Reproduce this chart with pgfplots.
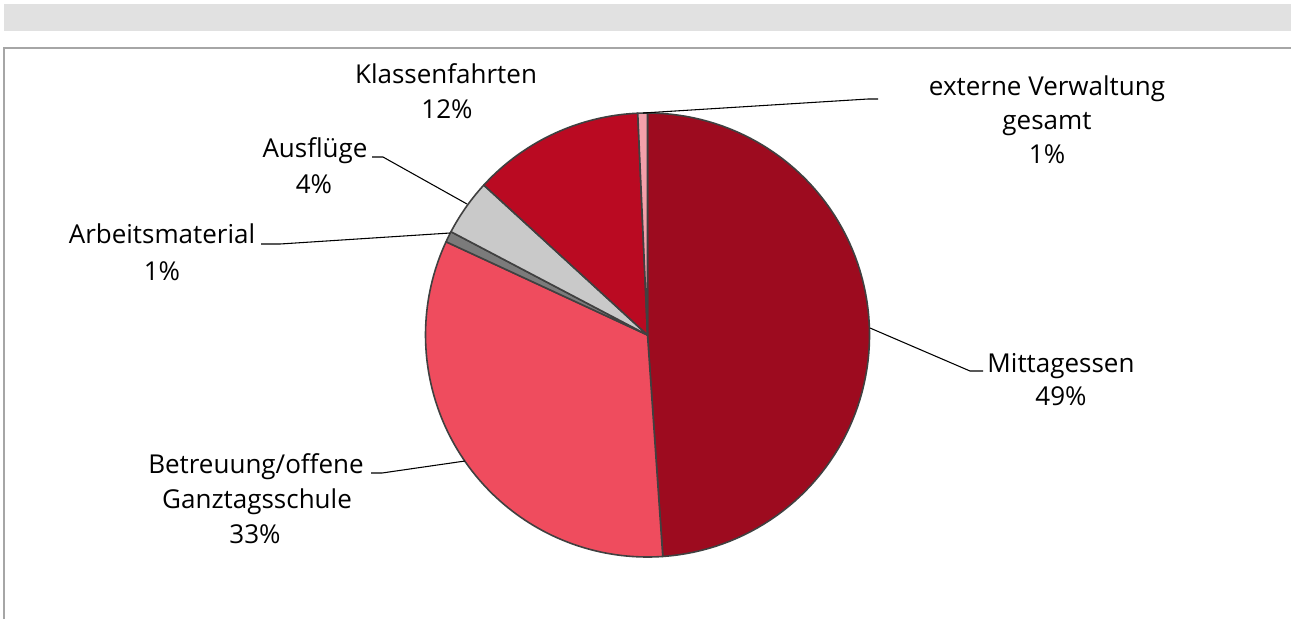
\documentclass[border=0pt]{standalone}
\usepackage{fontspec}
\setmainfont{Open Sans}
\usepackage{pgfplots}
\pgfplotsset{compat=1.18}
\definecolor{cMit}{HTML}{9D0B1F}
\definecolor{cBet}{HTML}{EF4C5E}
\definecolor{cArb}{HTML}{7B7B7B}
\definecolor{cAus}{HTML}{C9C9C9}
\definecolor{cKla}{HTML}{BA0A22}
\definecolor{cExt}{HTML}{F4A0AB}
\definecolor{cEdge}{HTML}{404040}
\definecolor{cBand}{HTML}{E1E1E1}
\definecolor{cFrame}{HTML}{A6A6A6}
\newcommand\lf{\fontsize{19.5}{26}\selectfont}
% shares in percent, clockwise from the top
\def\vMit{48.9}
\def\vBet{33.0}
\def\vArb{0.8}
\def\vAus{4.1}
\def\vKla{12.5}
\def\vExt{0.7}
\begin{document}
\begin{tikzpicture}
\pgfmathsetmacro{\aA}{90}
\pgfmathsetmacro{\aB}{\aA-3.6*\vMit}
\pgfmathsetmacro{\aC}{\aB-3.6*\vBet}
\pgfmathsetmacro{\aD}{\aC-3.6*\vArb}
\pgfmathsetmacro{\aE}{\aD-3.6*\vAus}
\pgfmathsetmacro{\aF}{\aE-3.6*\vKla}
\pgfmathsetmacro{\aG}{\aF-3.6*\vExt}
\begin{axis}[name=ax, x=0.75pt, y=0.75pt, xmin=0, xmax=1291, ymin=0, ymax=619,
  y dir=reverse, hide axis, clip=false, scale only axis]
\fill[white] (axis cs:0,0) rectangle (axis cs:1291,619);
\fill[cBand] (axis cs:4,4) rectangle (axis cs:1291,31);
\draw[cFrame, line width=0.9pt] (axis cs:4,619) -- (axis cs:4,48) -- (axis cs:1291,48);
\pgfplotsset{wedge/.style={draw=cEdge, line width=1.2pt, samples=90, variable=\t, line join=round}}
\addplot[wedge, fill=cMit, domain=\aB:\aA] ({647.5+222*cos(\t)},{335-222*sin(\t)}) -- (axis cs:647.5,335) -- cycle;
\addplot[wedge, fill=cBet, domain=\aC:\aB] ({647.5+222*cos(\t)},{335-222*sin(\t)}) -- (axis cs:647.5,335) -- cycle;
\addplot[wedge, fill=cArb, domain=\aD:\aC, samples=5] ({647.5+222*cos(\t)},{335-222*sin(\t)}) -- (axis cs:647.5,335) -- cycle;
\addplot[wedge, fill=cAus, domain=\aE:\aD, samples=15] ({647.5+222*cos(\t)},{335-222*sin(\t)}) -- (axis cs:647.5,335) -- cycle;
\addplot[wedge, fill=cKla, domain=\aF:\aE, samples=40] ({647.5+222*cos(\t)},{335-222*sin(\t)}) -- (axis cs:647.5,335) -- cycle;
\addplot[wedge, fill=cExt, domain=\aG:\aF, samples=5] ({647.5+222*cos(\t)},{335-222*sin(\t)}) -- (axis cs:647.5,335) -- cycle;
% leader lines
\addplot[black, line width=0.8pt, no marks] coordinates {(870,328) (970,371) (983,371)};
\addplot[black, line width=0.8pt, no marks] coordinates {(465,461) (382,473) (371,473)};
\addplot[black, line width=0.8pt, no marks] coordinates {(450,233) (280,244) (261,244)};
\addplot[black, line width=0.8pt, no marks] coordinates {(467,204) (383,157) (372,157)};
\addplot[black, line width=0.8pt, no marks] coordinates {(643,113) (868,99) (878,99)};
% labels
\begin{scope}[every node/.style={inner sep=0pt, anchor=base}]
\node at (axis cs:446,83) {\lf Klassenfahrten};
\node at (axis cs:447,118) {\lf 12\%};
\node at (axis cs:1047,95) {\lf externe Verwaltung};
\node at (axis cs:1047,129) {\lf gesamt};
\node at (axis cs:1047,163) {\lf 1\%};
\node at (axis cs:315,157) {\lf Ausflüge};
\node at (axis cs:314,193) {\lf 4\%};
\node at (axis cs:162,243) {\lf Arbeitsmaterial};
\node at (axis cs:162,280) {\lf 1\%};
\node at (axis cs:1061,372) {\lf Mittagessen};
\node at (axis cs:1061,405) {\lf 49\%};
\node at (axis cs:256,473) {\lf Betreuung/offene};
\node at (axis cs:257,508) {\lf Ganztagsschule};
\node at (axis cs:255,543) {\lf 33\%};
\end{scope}
\end{axis}
\pgfresetboundingbox
\useasboundingbox (ax.south west) rectangle (ax.north east);
\end{tikzpicture}
\end{document}
